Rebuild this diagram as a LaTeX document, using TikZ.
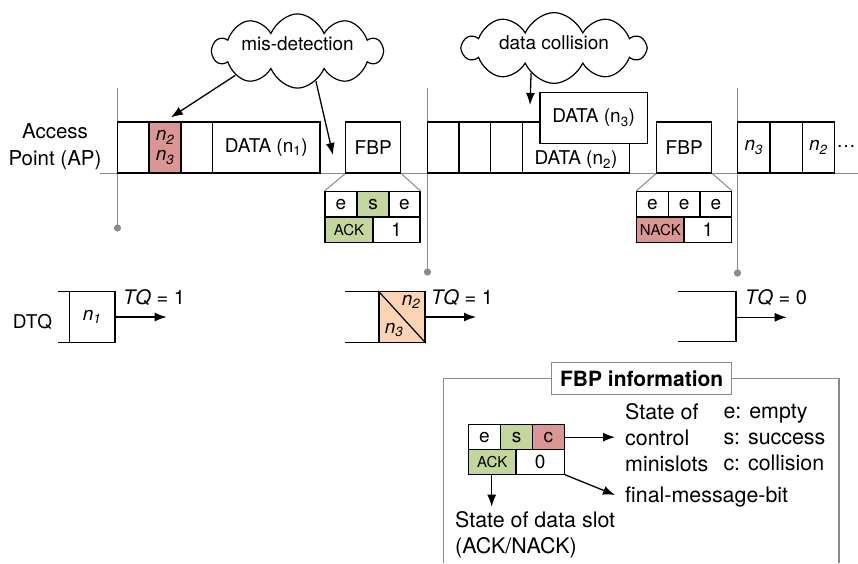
\documentclass[tikz,border=0pt]{standalone}
\usepackage{fontspec}
\setmainfont{TeX Gyre Heros}
\usetikzlibrary{shapes.symbols,arrows.meta}

\definecolor{missred}{HTML}{D99694}
\definecolor{okgreen}{HTML}{C3D69B}
\definecolor{peach}{HTML}{FBD4B4}
\definecolor{guide}{HTML}{8A8A8A}

\begin{document}
\begin{tikzpicture}[x=1pt,y=-1pt,
  font=\fontsize{19}{22}\selectfont,
  slot/.style={draw=black,line width=1.5pt,fill=white,inner sep=0pt,minimum height=51pt},
  cell/.style={draw=black,line width=1.2pt,fill=white,inner sep=0pt,minimum height=25.3pt},
  infocell/.style={cell,minimum height=24.6pt},
  guideline/.style={draw=guide,line width=1pt},
  qline/.style={draw=black,line width=1.5pt},
  arr/.style={-{Latex[length=12pt,width=9pt]},line width=1.3pt},
  callout/.style={cloud,cloud puffs=10,cloud puff arc=120,cloud ignores aspect,
    draw=black,line width=1.2pt,fill=white,inner sep=0pt,transform shape},
  smalltxt/.style={font=\fontsize{15}{16}\selectfont},
  infotxt/.style={font=\fontsize{21.4}{26}\selectfont,inner sep=0pt,align=left},
  tq/.style={anchor=base west,inner sep=0pt,font=\fontsize{20}{22}\selectfont},
]
\useasboundingbox (0,0) rectangle (858,563);

% time axis and frame boundaries
\draw[guideline] (100,173) -- (858,173);
\draw[guideline] (117.5,88) -- (117.5,228);
\fill[guide] (117.5,228) circle (3.6pt);
\draw[guideline] (427.5,88) -- (427.5,272);
\fill[guide] (427.5,272) circle (3.6pt);
\draw[guideline] (737.5,88) -- (737.5,273);
\fill[guide] (737.5,273) circle (3.6pt);

% AP label
\node[align=center,font=\fontsize{20.5}{27}\selectfont,inner sep=0pt] (ap) at (55,147) {Access\\Point (AP)};

% frame 1
\node[slot,minimum width=31.5pt] (a1) at (133.25,147.5) {};
\node[slot,minimum width=32pt,fill=missred,align=center,font=\fontsize{19}{20}\selectfont] (a2) at (165,147.5) {\itshape n\textsubscript{2}\\\itshape n\textsubscript{3}};
\node[slot,minimum width=31.5pt] (a3) at (196.75,147.5) {};
\node[slot,minimum width=107.5pt] (a4) at (266.25,147.5) {DATA (n\textsubscript{1})};
\node[slot,minimum width=55pt] (fbp1) at (373.2,147.5) {FBP};

% frame 2
\node[slot,minimum width=31.5pt] (b1) at (443.25,147.5) {};
\node[slot,minimum width=31.7pt] (b2) at (474.85,147.5) {};
\node[slot,minimum width=31.6pt] (b3) at (506.5,147.5) {};
\node[slot,minimum width=107pt] (b4) at (575.8,147.5) {};
\node[inner sep=0pt] (b4txt) at (576,160) {DATA (n\textsubscript{2})};
\node[slot,minimum width=107.3pt] (b5) at (593.65,117.8) {DATA (n\textsubscript{3})};
\node[slot,minimum width=55pt] (fbp2) at (684.2,147.5) {FBP};

% frame 3
\node[slot,minimum width=32.3pt] (c1) at (753.85,147.5) {\itshape n\textsubscript{3}};
\node[slot,minimum width=32.3pt] (c2) at (786.15,147.5) {};
\node[slot,minimum width=32pt] (c3) at (818.3,147.5) {\itshape n\textsubscript{2}};
\node[inner sep=0pt] (more) at (846,147) {…};

% FBP contents of frame 1
\node[cell,minimum width=32pt] (t1a) at (341,204.35) {e};
\node[cell,minimum width=32pt,fill=okgreen] (t1b) at (373,204.35) {s};
\node[cell,minimum width=31pt] (t1c) at (404.5,204.35) {e};
\node[cell,minimum width=48pt,fill=okgreen,smalltxt] (t1d) at (349,229.65) {ACK};
\node[cell,minimum width=47pt] (t1e) at (396.5,229.65) {1};
\draw[guideline] (fbp1.south west) -- (t1a.north west);
\draw[guideline] (fbp1.south east) -- (t1c.north east);

% FBP contents of frame 2
\node[cell,minimum width=31.6pt] (t2a) at (652.5,204.35) {e};
\node[cell,minimum width=31.7pt] (t2b) at (684.15,204.35) {e};
\node[cell,minimum width=31.7pt] (t2c) at (715.85,204.35) {e};
\node[cell,minimum width=47.3pt,fill=missred,smalltxt] (t2d) at (660.35,229.65) {NACK};
\node[cell,minimum width=47.7pt] (t2e) at (707.85,229.65) {1};
\draw[guideline] (fbp2.south west) -- (t2a.north west);
\draw[guideline] (fbp2.south east) -- (t2c.north east);

% callouts
\begin{scope}[yscale=1.28]
  \node[callout,minimum width=169pt,minimum height=58pt] (cl1) at (297.5,39.84) {};
\end{scope}
\node[inner sep=0pt] (cl1txt) at (297.5,43.5) {mis-detection};
\begin{scope}[yscale=1.22]
  \node[callout,minimum width=182pt,minimum height=58pt] (cl2) at (554,39.34) {};
\end{scope}
\node[inner sep=0pt] (cl2txt) at (554,42.5) {data collision};
\coordinate (gap1) at (333,155);
\coordinate (hit2) at (530,105);
\draw[arr,shorten >=7pt] (cl1.197) -- (a2.north);
\draw[arr] (cl1.308) -- (gap1);
\draw[arr] (cl2.222) -- (hit2);

% distributed tree queues
\node[anchor=base,inner sep=0pt] (dtq) at (32.5,328.3) {DTQ};
\draw[qline] (58,291.7) -- (115,291.7);
\draw[qline] (58,342.3) -- (115,342.3);
\node[slot,minimum width=45.7pt,minimum height=50.6pt] (q1) at (92.15,317) {\itshape n\textsubscript{1}};
\coordinate (q1end) at (166.7,317);
\draw[arr] (q1.east) -- (q1end);
\node[tq] (tq1) at (123,304) {\textit{TQ} = 1};

\draw[qline] (345,291.7) -- (425,291.7);
\draw[qline] (345,342.3) -- (425,342.3);
\node[slot,minimum width=46pt,minimum height=50.6pt,fill=peach] (q2) at (402,317) {};
\draw[line width=1.2pt] (q2.north west) -- (q2.south east);
\node[inner sep=0pt] (q2a) at (411,302) {\itshape n\textsubscript{2}};
\node[inner sep=0pt] (q2b) at (394,330) {\itshape n\textsubscript{3}};
\coordinate (q2end) at (476,317);
\draw[arr] (q2.east) -- (q2end);
\node[tq] (tq2) at (431,304) {\textit{TQ} = 1};

\draw[qline] (678.3,291.7) -- (736,291.7) -- (736,341.7) -- (678.3,341.7);
\coordinate (q3) at (736,317.3);
\coordinate (q3end) at (786.7,317.3);
\draw[arr] (q3) -- (q3end);
\node[tq] (tq3) at (745,304) {\textit{TQ} = 0};

% legend box
\draw[draw=guide,line width=1.4pt] (443.3,563) -- (443.3,378.3) -- (839,378.3) -- (839,563);
\node[draw=guide,line width=1.4pt,fill=white,minimum width=180pt,minimum height=31.6pt,inner sep=0pt,
  font=\fontsize{21}{22}\selectfont\bfseries] (title) at (641.7,378.5) {FBP information};

\node[infocell,minimum width=32.4pt] (t3a) at (484.5,437.15) {e};
\node[infocell,minimum width=31.6pt,fill=okgreen] (t3b) at (516.5,437.15) {s};
\node[infocell,minimum width=32pt,fill=missred] (t3c) at (548.3,437.15) {c};
\node[infocell,minimum width=47.7pt,fill=okgreen,smalltxt] (t3d) at (492.15,461.8) {ACK};
\node[infocell,minimum width=48.3pt] (t3e) at (540.15,461.8) {0};

\node[infotxt,anchor=west] (ctrl) at (625,437.3) {State of\\control\\minislots};
\node[infotxt,anchor=west] (keys) at (723.3,437.3) {e: empty\\s: success\\c: collision};
\node[infotxt,anchor=west] (fmb) at (625,496.7) {final-message-bit};
\node[infotxt,anchor=west] (dslot) at (455,535) {State of data slot\\(ACK/NACK)};

\coordinate (ctrlin) at (615,437.15);
\coordinate (fmbin) at (615,495);
\coordinate (dslotin) at (491.7,506.7);
\draw[arr] (t3c.east) -- (ctrlin);
\draw[arr] (t3e.south east) -- (fmbin);
\draw[arr] (t3d.south -| dslotin) -- (dslotin);
\end{tikzpicture}
\end{document}
